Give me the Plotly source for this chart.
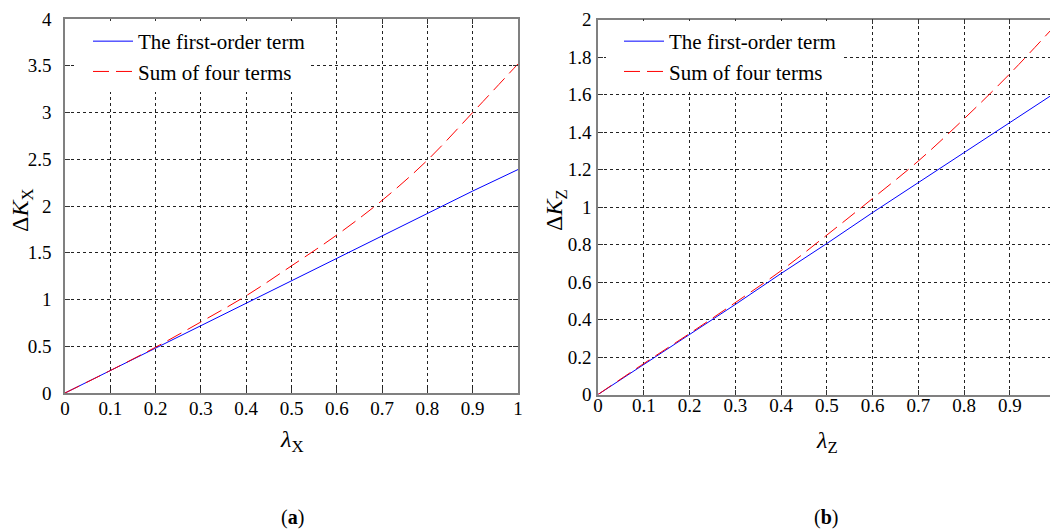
import plotly.graph_objects as go

# ---- data ----
lam = [0.0, 0.1, 0.2, 0.3, 0.4, 0.5, 0.6, 0.7, 0.8, 0.9, 1.0]
kx_first = [0.0, 0.24, 0.48, 0.72, 0.96, 1.20, 1.44, 1.68, 1.92, 2.16, 2.39]
kx_sum = [0.0, 0.24, 0.49, 0.76, 1.04, 1.36, 1.69, 2.06, 2.49, 3.00, 3.52]
kz_first = [0.0, 0.16, 0.32, 0.48, 0.645, 0.805, 0.97, 1.13, 1.29, 1.45, 1.61]
kz_sum = [0.0, 0.165, 0.325, 0.49, 0.66, 0.85, 1.045, 1.245, 1.47, 1.71, 1.97]
x_ticks = [0, 0.1, 0.2, 0.3, 0.4, 0.5, 0.6, 0.7, 0.8, 0.9, 1]
x_ticklabels = ["0", "0.1", "0.2", "0.3", "0.4", "0.5", "0.6", "0.7", "0.8", "0.9", "1"]
ya_ticks = [0, 0.5, 1, 1.5, 2, 2.5, 3, 3.5, 4]
ya_ticklabels = ["0", "0.5", "1", "1.5", "2", "2.5", "3", "3.5", "4"]
yb_ticks = [0, 0.2, 0.4, 0.6, 0.8, 1, 1.2, 1.4, 1.6, 1.8, 2]
yb_ticklabels = ["0", "0.2", "0.4", "0.6", "0.8", "1", "1.2", "1.4", "1.6", "1.8", "2"]
name_first = "The first-order term"
name_sum = "Sum of four terms"
xtitle_a = "<i>λ</i><sub>X</sub>"
ytitle_a = "Δ<i>K</i><sub>X</sub>"
xtitle_b = "<i>λ</i><sub>Z</sub>"
ytitle_b = "Δ<i>K</i><sub>Z</sub>"
caption_a = "(<b>a</b>)"
caption_b = "(<b>b</b>)"

W, H = 1058, 531
OFF = 8  # page body margin in the browser
FONT = "Liberation Serif, Times New Roman, serif"
BLUE = "#0000ff"
RED = "#ff0000"
DASH = "16px,7px"

fig = go.Figure()
fig.add_trace(go.Scatter(x=lam, y=kx_first, mode="lines", name=name_first,
                         line=dict(color=BLUE, width=1), xaxis="x", yaxis="y", legend="legend"))
fig.add_trace(go.Scatter(x=lam, y=kx_sum, mode="lines", name=name_sum, line_shape="spline",
                         line=dict(color=RED, width=1, dash=DASH), xaxis="x", yaxis="y", legend="legend"))
fig.add_trace(go.Scatter(x=lam, y=kz_first, mode="lines", name=name_first,
                         line=dict(color=BLUE, width=1), xaxis="x2", yaxis="y2", legend="legend2"))
fig.add_trace(go.Scatter(x=lam, y=kz_sum, mode="lines", name=name_sum, line_shape="spline",
                         line=dict(color=RED, width=1, dash=DASH), xaxis="x2", yaxis="y2", legend="legend2"))


def px(v):
    return (v - OFF) / W


def py(v):
    return 1 - (v - OFF) / H


common = dict(
    showgrid=True, gridcolor="#222222", griddash="3px,3px", gridwidth=1,
    showline=True, linecolor="#808080", linewidth=1.5, mirror="ticks",
    ticks="inside", ticklen=5, tickcolor="#333333", automargin=False,
    zeroline=False, tickfont=dict(family=FONT, size=19, color="black"),
)

leg_common = dict(xanchor="left", yanchor="top", bgcolor="white", borderwidth=0,
                  itemwidth=40, indentation=13,
                  font=dict(family=FONT, size=21, color="black"), tracegroupgap=0)

fig.update_layout(
    width=W, height=H,
    margin=dict(l=0, r=0, t=0, b=0, autoexpand=False),
    paper_bgcolor="white", plot_bgcolor="white",
    font=dict(family=FONT, color="black"),
    xaxis=dict(domain=[px(65), px(518)], anchor="y", range=[0, 1],
               tickvals=x_ticks, ticktext=x_ticklabels, ticklabelstandoff=-3, **common),
    yaxis=dict(domain=[py(393), py(19)], anchor="x", range=[0, 4],
               tickvals=ya_ticks, ticktext=ya_ticklabels, ticklabelstandoff=8, **common),
    xaxis2=dict(domain=[px(598), px(1055.5)], anchor="y2", range=[0, 1],
                tickvals=x_ticks, ticktext=x_ticklabels, ticklabelstandoff=-7, **common),
    yaxis2=dict(domain=[py(394.5), py(19.5)], anchor="x2", range=[0, 2],
                tickvals=yb_ticks, ticktext=yb_ticklabels, ticklabelstandoff=1, **common),
    legend=dict(x=px(75), y=py(21), **leg_common),
    legend2=dict(x=px(606), y=py(21), **leg_common),
    showlegend=True,
)

for text, x, y, ang, size in [
    (xtitle_a, 292, 441, 0, 24),
    (xtitle_b, 827, 442, 0, 24),
    (ytitle_a, 22, 210, -90, 24),
    (ytitle_b, 556, 210, -90, 24),
    (caption_a, 292, 517, 0, 20),
    (caption_b, 826, 517, 0, 20),
]:
    fig.add_annotation(text=text, x=px(x), y=py(y), xref="paper", yref="paper",
                       xanchor="center", yanchor="middle", showarrow=False,
                       textangle=ang, font=dict(family=FONT, size=size, color="black"))

fig.write_html("out.html")
